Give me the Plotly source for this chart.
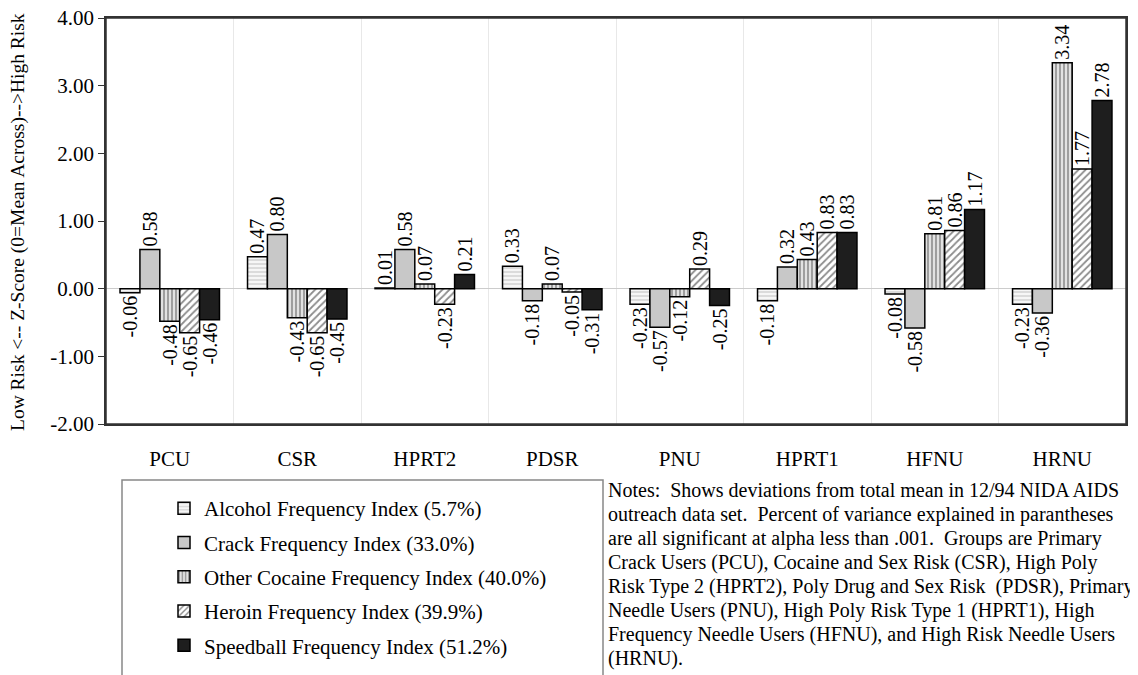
import plotly.graph_objects as go

groups = ["PCU", "CSR", "HPRT2", "PDSR", "PNU", "HPRT1", "HFNU", "HRNU"]
series_names = [
    "Alcohol Frequency Index (5.7%)",
    "Crack Frequency Index (33.0%)",
    "Other Cocaine Frequency Index (40.0%)",
    "Heroin Frequency Index (39.9%)",
    "Speedball Frequency Index (51.2%)",
]
alcohol = [-0.06, 0.47, 0.01, 0.33, -0.23, -0.18, -0.08, -0.23]
crack = [0.58, 0.80, 0.58, -0.18, -0.57, 0.32, -0.58, -0.36]
other_cocaine = [-0.48, -0.43, 0.07, 0.07, -0.12, 0.43, 0.81, 3.34]
heroin = [-0.65, -0.65, -0.23, -0.05, 0.29, 0.83, 0.86, 1.77]
speedball = [-0.46, -0.45, 0.21, -0.31, -0.25, 0.83, 1.17, 2.78]
y_ticks = [-2, -1, 0, 1, 2, 3, 4]

notes_lines = [
    "Notes:  Shows deviations from total mean in 12/94 NIDA AIDS",
    "outreach data set.  Percent of variance explained in parantheses",
    "are all significant at alpha less than .001.  Groups are Primary",
    "Crack Users (PCU), Cocaine and Sex Risk (CSR), High Poly",
    "Risk Type 2 (HPRT2), Poly Drug and Sex Risk  (PDSR), Primary",
    "Needle Users (PNU), High Poly Risk Type 1 (HPRT1), High",
    "Frequency Needle Users (HFNU), and High Risk Needle Users",
    "(HRNU).",
]
y_title = "Low Risk <-- Z-Score (0=Mean Across)-->High Risk"

FONT = "Liberation Serif, Times New Roman, serif"
OFF = 8  # default page body margin
W, H = 1138 - OFF, 675 - OFF
L, R, T, B = 106 - OFF, 12, 18 - OFF, 251
PW = W - L - R
PH = H - T - B


def px_x(px):
    return (px - OFF - L) / PW


def px_y(py):
    return (H - B - (py - OFF)) / PH


styles = [
    dict(color="#f4f4f4", pattern=dict(shape="-", fgcolor="#9a9a9a", bgcolor="#f6f6f6", size=4, solidity=0.3)),
    dict(color="#c8c8c8"),
    dict(color="#dddddd", pattern=dict(shape="|", fgcolor="#222222", bgcolor="#e2e2e2", size=4, solidity=0.35)),
    dict(color="#ffffff", pattern=dict(shape="/", fgcolor="#1a1a1a", bgcolor="#ffffff", size=5, solidity=0.35)),
    dict(color="#1e1e1e"),
]

all_series = [alcohol, crack, other_cocaine, heroin, speedball]

fig = go.Figure()
for i, (name, vals, st) in enumerate(zip(series_names, all_series, styles)):
    marker = dict(line=dict(color="black", width=1.5), **st)
    fig.add_trace(go.Bar(
        x=groups, y=vals, name=name, marker=marker, legendgroup=f"g{i}",
        texttemplate="%{y:.2f}", textposition="outside", textangle=-90,
        textfont=dict(family=FONT, size=20, color="black"),
        constraintext="none", cliponaxis=False,
    ))

fig.update_layout(
    width=W, height=H,
    margin=dict(l=L, r=R, t=T, b=B, autoexpand=False),
    paper_bgcolor="white", plot_bgcolor="white",
    barmode="group", bargap=0.22, bargroupgap=0,
    font=dict(family=FONT, size=20, color="black"),
    showlegend=True,
    legend=dict(
        x=px_x(164), y=px_y(488), xanchor="left", yanchor="top",
        font=dict(family=FONT, size=21, color="black"),
        bgcolor="rgba(0,0,0,0)", borderwidth=0,
        traceorder="grouped", tracegroupgap=4,
    ),
    xaxis=dict(
        type="category", tickson="boundaries", showgrid=True, gridcolor="#e8e8e8",
        gridwidth=1, ticks="", showline=True, mirror=True, linecolor="#333333",
        linewidth=1.5, tickfont=dict(family=FONT, size=21), ticklabelstandoff=15,
    ),
    yaxis=dict(
        range=[-2, 4], tickvals=y_ticks, ticktext=[f"{v:.2f}" for v in y_ticks],
        showgrid=False, ticklabeloverflow="allow",
        zeroline=True, zerolinecolor="#cccccc", zerolinewidth=1,
        ticks="outside", ticklen=6, tickcolor="#333333",
        showline=True, mirror=True, linecolor="#333333", linewidth=1.5,
        tickfont=dict(family=FONT, size=21),
    ),
)

# plot frame
fig.add_shape(type="rect", xref="paper", yref="paper", x0=0, x1=1, y0=0, y1=1,
              line=dict(color="#333333", width=1.5), fillcolor="rgba(0,0,0,0)", layer="above")

# legend box (extends beyond the bottom of the page as in the reference)
fig.add_shape(type="rect", xref="paper", yref="paper",
              x0=px_x(122), x1=px_x(603), y0=px_y(700), y1=px_y(480),
              line=dict(color="#888888", width=1.5), fillcolor="rgba(0,0,0,0)", layer="below")

fig.add_annotation(text=y_title, xref="paper", yref="paper", x=px_x(18), y=px_y(222),
                   xanchor="center", yanchor="middle", textangle=-90, showarrow=False,
                   font=dict(family=FONT, size=19.5, color="black"))

for i, line in enumerate(notes_lines):
    fig.add_annotation(text=line, xref="paper", yref="paper", x=px_x(606), y=px_y(490 + 24.1 * i),
                       xanchor="left", yanchor="middle", showarrow=False, align="left",
                       font=dict(family=FONT, size=20, color="black"))

fig.write_html("out.html")
